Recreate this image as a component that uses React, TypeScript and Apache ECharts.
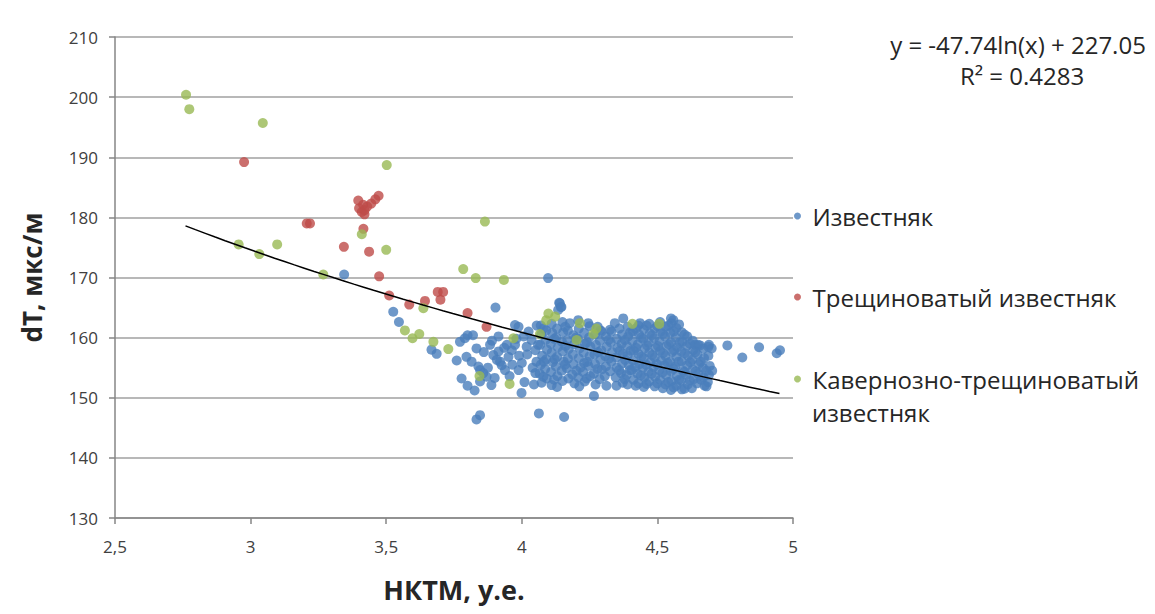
import React, { useEffect, useRef } from "react";
import * as echarts from "echarts";

const xTicks = ["2,5", "3", "3,5", "4", "4,5", "5"];
const trendCoef = [-47.74, 227.05];
const trendRange = [2.76, 4.95];
const seriesNames = ["Известняк", "Трещиноватый известняк", "Кавернозно-трещиноватый известняк"];

const limestone: number[][] = [
  [3.345,170.5],[3.526,164.3],[3.547,162.6],[3.667,158.0],[3.686,157.3],[3.76,156.2],[3.778,153.2],[3.80,152.0],
  [3.826,151.2],[3.833,146.4],[3.846,147.1],[3.903,165.0],[3.772,159.3],[3.79,159.9],[3.80,160.4],[3.82,160.4],
  [3.833,158.2],[3.796,156.8],[3.815,156.0],[3.84,155.2],[3.846,154.6],[3.858,154.1],[3.87,153.5],[3.846,152.7],
  [3.888,152.1],[3.883,158.8],[3.895,157.1],[3.914,157.7],[3.908,156.3],[3.926,155.4],[3.938,154.6],[3.951,156.8],
  [3.963,157.9],[3.975,158.8],[3.988,154.6],[3.945,158.8],[3.914,160.2],[3.975,162.1],[3.988,161.8],[4.007,160.2],
  [4.018,158.5],[4.036,159.6],[4.05,157.9],[4.054,156.0],[4.05,154.1],[3.999,150.8],[4.063,147.4],[4.097,169.9],
  [4.138,165.8],[4.144,165.1],[4.134,164.6],[4.156,146.8],[4.266,150.3],[4.349,152.0],
  [3.86,157.6],[3.875,155.0],[3.89,159.5],[3.90,153.3],[3.92,156.0],[3.935,158.3],[3.955,153.6],[3.965,155.5],
  [3.98,159.8],[3.99,157.0],[4.00,155.8],[4.01,152.6],[4.02,157.2],[4.025,161.0],[4.04,155.0],[4.045,152.2],
  [4.055,162.0],[4.06,158.8],
  [4.07,162.0],[4.072,160.5],[4.068,158.8],[4.075,157.0],[4.07,155.5],[4.066,154.0],[4.073,152.5],
  [4.09,161.2],[4.088,159.6],[4.093,158.0],[4.09,156.4],[4.086,154.8],[4.092,153.2],
  [4.11,162.3],[4.112,160.8],[4.107,159.0],[4.11,157.5],[4.114,155.9],[4.108,154.3],[4.11,152.1],
  [4.13,161.5],[4.127,160.0],[4.133,158.4],[4.13,156.8],[4.126,155.2],[4.131,153.6],[4.13,151.8],
  [4.15,162.6],[4.153,160.9],[4.148,159.3],[4.151,157.7],[4.155,156.0],[4.147,154.5],[4.15,152.8],
  [4.17,161.2],[4.168,159.6],[4.173,158.1],[4.17,156.5],[4.166,154.9],[4.172,153.2],
  [4.19,160.4],[4.193,158.9],[4.188,157.2],[4.19,155.6],[4.186,153.9],[4.194,152.4],
  [4.21,161.5],[4.207,159.8],[4.213,158.2],[4.21,156.6],[4.216,155.0],[4.208,153.4],[4.212,151.9],
  [4.23,160.8],[4.233,159.0],[4.228,157.5],[4.23,155.8],[4.226,154.3],[4.232,152.7],
  [4.25,161.9],[4.248,160.0],[4.253,158.5],[4.25,156.9],[4.246,155.3],[4.252,153.6],
  [4.27,160.5],[4.273,158.8],[4.268,157.2],[4.27,155.6],[4.266,154.0],[4.272,152.2],
  [4.29,161.2],[4.288,159.5],[4.293,157.9],[4.29,156.3],[4.295,154.7],[4.287,153.1],
  [4.31,160.2],[4.313,158.5],[4.308,156.9],[4.31,155.2],[4.306,153.6],[4.312,152.0],
  [4.33,161.0],[4.328,159.2],[4.333,157.6],[4.33,156.0],[4.326,154.4],
  [4.35,159.8],[4.353,158.3],[4.348,156.7],[4.35,155.0],[4.346,153.4],
  [4.37,160.5],[4.368,159.0],[4.373,157.3],[4.37,155.7],[4.366,154.1],[4.372,152.5],
  [4.39,161.8],[4.392,160.2],[4.388,158.6],[4.39,157.0],[4.394,155.4],[4.387,153.8],[4.39,152.2],
  [4.41,161.0],[4.408,159.4],[4.413,157.8],[4.41,156.2],[4.406,154.6],[4.412,153.0],
  [4.43,162.0],[4.432,160.5],[4.428,158.9],[4.43,157.3],[4.434,155.6],[4.427,154.0],[4.43,152.4],
  [4.45,161.4],[4.448,159.8],[4.453,158.2],[4.45,156.6],[4.446,155.0],[4.452,153.4],[4.45,151.8],
  [4.47,162.3],[4.472,160.7],[4.468,159.1],[4.47,157.5],[4.474,155.9],[4.467,154.3],[4.47,152.7],
  [4.49,161.5],[4.488,159.9],[4.493,158.3],[4.49,156.7],[4.486,155.1],[4.492,153.5],[4.49,151.9],
  [4.51,162.6],[4.512,161.0],[4.508,159.4],[4.51,157.8],[4.514,156.2],[4.507,154.6],[4.51,153.0],
  [4.53,161.8],[4.528,160.2],[4.533,158.6],[4.53,157.0],[4.526,155.4],[4.532,153.8],[4.53,152.2],
  [4.55,163.2],[4.552,162.4],[4.548,160.8],[4.55,159.2],[4.554,157.6],[4.547,156.0],[4.55,154.4],[4.552,152.8],[4.55,151.3],
  [4.57,161.6],[4.568,160.0],[4.573,158.4],[4.57,156.8],[4.566,155.2],[4.572,153.6],[4.57,152.0],
  [4.59,160.9],[4.592,159.3],[4.588,157.7],[4.59,156.1],[4.594,154.5],[4.587,152.9],[4.59,151.4],
  [4.61,160.2],[4.608,158.6],[4.613,157.0],[4.61,155.4],[4.606,153.8],[4.612,152.2],
  [4.63,159.5],[4.632,157.9],[4.628,156.3],[4.63,154.7],[4.634,153.1],[4.627,151.6],
  [4.65,158.8],[4.648,157.2],[4.653,155.6],[4.65,154.0],[4.646,152.4],
  [4.67,158.2],[4.672,156.6],[4.668,155.0],[4.67,153.4],[4.674,152.0],
  [4.69,158.8],[4.688,157.0],[4.693,155.3],[4.69,153.8],[4.686,152.6],
  [4.70,158.2],[4.702,154.5],
  [4.758,158.7],[4.875,158.4],[4.813,156.7],[4.94,157.4],[4.952,157.9],[4.559,162.9],[4.436,162.4],[4.374,163.2],
  [4.343,162.4],[4.177,162.4],[4.208,162.9],[4.245,162.4],[4.325,161.3],[4.294,161.0],[4.14,165.7],[4.146,165.1],
  [4.639,158.8],[4.657,158.7],[4.688,158.5],
  [4.40,160.9],[4.401,157.8],[4.399,154.6],
  [4.42,161.5],[4.421,158.3],[4.418,155.1],[4.42,152.0],
  [4.44,160.0],[4.441,156.8],[4.439,153.7],
  [4.46,162.0],[4.462,158.7],[4.458,155.5],[4.46,152.3],
  [4.48,160.4],[4.481,157.1],[4.479,154.0],
  [4.50,161.9],[4.502,158.6],[4.498,155.6],[4.50,152.4],
  [4.52,160.6],[4.521,157.4],[4.519,154.2],[4.52,151.6],
  [4.54,162.0],[4.542,158.9],[4.538,155.8],[4.54,152.6],
  [4.56,161.0],[4.561,157.9],[4.559,154.8],[4.56,151.7],
  [4.58,162.2],[4.582,159.2],[4.578,156.0],[4.58,153.0],
  [4.60,160.5],[4.601,157.4],[4.599,154.3],[4.60,151.5],
  [4.62,159.0],[4.621,155.9],[4.619,152.9],
  [4.64,157.6],[4.641,154.4],
  [4.66,156.0],[4.661,153.0],
  [4.68,154.5],[4.681,151.9],
  [4.08,161.5],[4.081,156.0],[4.079,153.5],
  [4.12,159.8],[4.121,156.4],[4.119,153.0],
  [4.16,161.8],[4.161,158.6],[4.159,155.5],
  [4.20,160.0],[4.201,154.5],
  [4.24,159.2],[4.241,156.0],[4.239,153.2],
  [4.28,161.8],[4.281,157.6],[4.279,154.8],
  [4.32,159.6],[4.321,156.5],
  [4.36,161.5],[4.361,157.8],[4.359,154.6],
  [4.38,159.6],[4.381,156.3],[4.379,153.1]
];

const fractured: number[][] = [
  [2.976,189.2],[3.207,179.0],[3.219,179.0],[3.397,182.8],[3.40,181.5],[3.41,180.9],[3.42,180.5],[3.415,182.1],
  [3.43,181.8],[3.445,182.3],[3.46,183.0],[3.472,183.6],[3.42,181.2],[3.416,178.1],[3.344,175.1],[3.437,174.3],
  [3.474,170.2],[3.511,167.0],[3.585,165.5],[3.643,166.1],[3.69,167.6],[3.71,167.6],[3.70,166.3],[3.80,164.1],
  [3.87,161.8]
];

const cavernous: number[][] = [
  [2.762,200.4],[2.774,198.0],[3.045,195.7],[3.502,188.7],[3.864,179.3],[2.956,175.5],[3.032,173.9],[3.098,175.5],
  [3.268,170.5],[3.41,177.2],[3.50,174.6],[3.784,171.4],[3.83,169.9],[3.934,169.6],[3.569,161.2],[3.597,159.9],
  [3.622,160.6],[3.674,159.3],[3.729,158.1],[3.637,164.9],[3.969,159.9],[3.844,153.6],[3.955,152.3],[4.09,162.9],
  [4.098,164.0],[4.123,163.5],[4.214,162.4],[4.275,161.5],[4.264,160.6],[4.202,159.6],[4.067,160.6],[4.408,162.3],
  [4.507,162.3]
];

const FONT = "'Open Sans', 'Noto Sans', sans-serif";

export default function App() {
  const ref = useRef<HTMLDivElement>(null);
  useEffect(() => {
    if (!ref.current) return;
    const chart = echarts.init(ref.current, null, { renderer: "svg" });
    const trend: number[][] = [];
    const steps = 60;
    for (let i = 0; i <= steps; i++) {
      const x = trendRange[0] + ((trendRange[1] - trendRange[0]) * i) / steps;
      trend.push([x, trendCoef[0] * Math.log(x) + trendCoef[1]]);
    }
    const legendBase = {
      orient: "vertical",
      left: 789,
      itemWidth: 20,
      itemHeight: 7,
      icon: "circle",
      textStyle: { fontFamily: FONT, fontSize: 24, color: "#262626" },
    };
    chart.setOption({
      animation: false,
      backgroundColor: "#ffffff",
      grid: { left: 115, right: 362, top: 37, bottom: 96 },
      xAxis: {
        type: "value",
        min: 2.5,
        max: 5,
        interval: 0.5,
        name: "НКТМ, у.е.",
        nameLocation: "middle",
        nameGap: 58,
        nameTextStyle: { fontFamily: FONT, fontSize: 27, fontWeight: "bold", color: "#262626" },
        axisLine: { show: true, lineStyle: { color: "#868686", width: 1.5 } },
        axisTick: { show: true, inside: false, length: 6, lineStyle: { color: "#868686", width: 1.5 } },
        axisLabel: {
          fontFamily: FONT,
          fontSize: 17,
          color: "#404040",
          margin: 20,
          formatter: (v: number) => xTicks[Math.round((v - 2.5) / 0.5)] ?? String(v),
        },
        splitLine: { show: false },
      },
      yAxis: {
        type: "value",
        min: 130,
        max: 210,
        interval: 10,
        name: "dT, мкс/м",
        nameLocation: "middle",
        nameGap: 70,
        nameTextStyle: { fontFamily: FONT, fontSize: 26, fontWeight: "bold", color: "#262626" },
        axisLine: { show: true, lineStyle: { color: "#868686", width: 1.5 } },
        axisTick: { show: true, inside: false, length: 6, lineStyle: { color: "#868686", width: 1.5 } },
        axisLabel: { fontFamily: FONT, fontSize: 17, color: "#404040", margin: 17 },
        splitLine: { show: true, lineStyle: { color: "#a0a0a0", width: 1.5 } },
      },
      legend: [
        { ...legendBase, top: 199, data: [seriesNames[0]] },
        { ...legendBase, top: 280, data: [seriesNames[1]] },
        { ...legendBase, top: 362, data: [seriesNames[2]], formatter: () => "Кавернозно-трещиноватый" },
      ],
      graphic: [
        {
          type: "text",
          x: 812,
          y: 412,
          style: { text: "известняк", fontFamily: FONT, fontSize: 24, fill: "#262626", verticalAlign: "middle" },
        },
        {
          type: "text",
          x: 1018,
          y: 44,
          style: {
            text: "y = -47.74ln(x) + 227.05",
            fontFamily: FONT,
            fontSize: 24,
            fill: "#262626",
            align: "center",
            verticalAlign: "middle",
          },
        },
        {
          type: "text",
          x: 1022,
          y: 75,
          style: {
            text: "R² = 0.4283",
            fontFamily: FONT,
            fontSize: 24,
            fill: "#262626",
            align: "center",
            verticalAlign: "middle",
          },
        },
      ],
      series: [
        {
          name: seriesNames[0],
          type: "scatter",
          data: limestone,
          symbolSize: 10,
          itemStyle: { color: "#4a7ebb" },
          z: 2,
        },
        {
          name: seriesNames[1],
          type: "scatter",
          data: fractured,
          symbolSize: 10,
          itemStyle: { color: "#be4b48" },
          z: 3,
        },
        {
          name: seriesNames[2],
          type: "scatter",
          data: cavernous,
          symbolSize: 10,
          itemStyle: { color: "#98b954" },
          z: 4,
        },
        {
          name: "trend",
          type: "line",
          data: trend,
          showSymbol: false,
          symbol: "none",
          smooth: false,
          lineStyle: { color: "#000000", width: 1.5 },
          z: 5,
          silent: true,
        },
      ],
    });
    return () => chart.dispose();
  }, []);
  return <div ref={ref} style={{ width: 1155, height: 614, position: "absolute", left: 0, top: 0 }} />;
}
